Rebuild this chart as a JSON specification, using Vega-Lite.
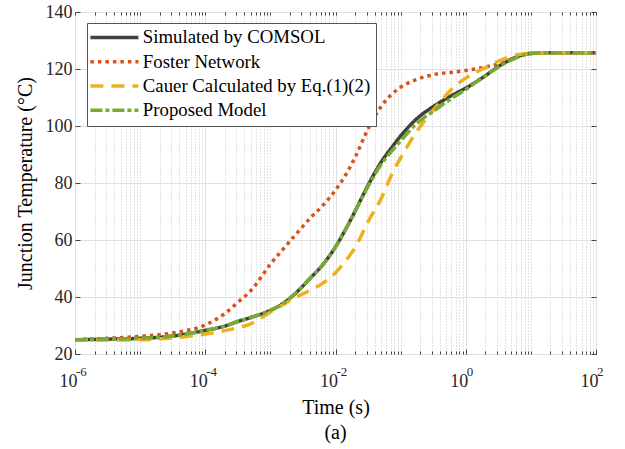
{
  "$schema": "https://vega.github.io/schema/vega-lite/v6.json",
  "width": 521,
  "height": 342,
  "autosize": "none",
  "padding": {"left": 75, "top": 12, "right": 29, "bottom": 95},
  "background": "white",
  "title": {"text": "(a)", "orient": "bottom", "offset": 6, "font": "Liberation Serif", "fontSize": 20, "fontWeight": "normal", "color": "#000000"},
  "config": {
    "view": {"stroke": "#444444", "strokeWidth": 1},
    "font": "Liberation Serif",
    "axis": {
      "labelFont": "Liberation Serif",
      "labelFontSize": 18,
      "labelColor": "#262626",
      "titleFont": "Liberation Serif",
      "titleFontSize": 20,
      "titleFontWeight": "normal",
      "titleColor": "#000000",
      "tickColor": "#444444",
      "domain": false,
      "gridColor": "#e0e0e0",
      "gridWidth": 1
    },
    "legend": {
      "orient": "none", "legendX": 12, "legendY": 11, "title": null,
      "symbolType": "M-4.8,0H4.8", "symbolSize": 100, "symbolStrokeWidth": 3.5,
      "labelFont": "Liberation Serif", "labelFontSize": 18.8, "labelColor": "#000000",
      "fillColor": "white", "strokeColor": "#555555",
      "padding": 5, "rowPadding": 4.3, "symbolOffset": 13, "labelOffset": 19, "labelLimit": 400
    }
  },
  "datasets": {
    "exps": [
      {"t": 1e-6, "e": "-6"},
      {"t": 1e-4, "e": "-4"},
      {"t": 0.01, "e": "-2"},
      {"t": 1, "e": "0"},
      {"t": 100, "e": "2"}
    ],
    "curves": [
      {"t": 1e-6, "v": 25.0, "series": "Simulated by COMSOL"},
      {"t": 3.16e-6, "v": 25.2, "series": "Simulated by COMSOL"},
      {"t": 1e-5, "v": 25.5, "series": "Simulated by COMSOL"},
      {"t": 3.16e-5, "v": 26.3, "series": "Simulated by COMSOL"},
      {"t": 1e-4, "v": 28.3, "series": "Simulated by COMSOL"},
      {"t": 2e-4, "v": 29.8, "series": "Simulated by COMSOL"},
      {"t": 3.16e-4, "v": 31.4, "series": "Simulated by COMSOL"},
      {"t": 5e-4, "v": 32.8, "series": "Simulated by COMSOL"},
      {"t": 1e-3, "v": 35.3, "series": "Simulated by COMSOL"},
      {"t": 1.58e-3, "v": 37.8, "series": "Simulated by COMSOL"},
      {"t": 2.51e-3, "v": 41.6, "series": "Simulated by COMSOL"},
      {"t": 3.98e-3, "v": 46.3, "series": "Simulated by COMSOL"},
      {"t": 6.31e-3, "v": 51.2, "series": "Simulated by COMSOL"},
      {"t": 0.01, "v": 57.6, "series": "Simulated by COMSOL"},
      {"t": 0.0141, "v": 63.5, "series": "Simulated by COMSOL"},
      {"t": 0.02, "v": 70.1, "series": "Simulated by COMSOL"},
      {"t": 0.0316, "v": 79.2, "series": "Simulated by COMSOL"},
      {"t": 0.0501, "v": 87.3, "series": "Simulated by COMSOL"},
      {"t": 0.075, "v": 92.8, "series": "Simulated by COMSOL"},
      {"t": 0.1, "v": 96.5, "series": "Simulated by COMSOL"},
      {"t": 0.17, "v": 102.2, "series": "Simulated by COMSOL"},
      {"t": 0.347, "v": 107.4, "series": "Simulated by COMSOL"},
      {"t": 0.708, "v": 111.5, "series": "Simulated by COMSOL"},
      {"t": 1, "v": 113.3, "series": "Simulated by COMSOL"},
      {"t": 1.82, "v": 117.0, "series": "Simulated by COMSOL"},
      {"t": 3.63, "v": 121.7, "series": "Simulated by COMSOL"},
      {"t": 6.31, "v": 124.4, "series": "Simulated by COMSOL"},
      {"t": 9.33, "v": 125.4, "series": "Simulated by COMSOL"},
      {"t": 19.1, "v": 125.7, "series": "Simulated by COMSOL"},
      {"t": 100, "v": 125.7, "series": "Simulated by COMSOL"},

      {"t": 1e-6, "v": 25.0, "series": "Foster Network"},
      {"t": 3.16e-6, "v": 25.5, "series": "Foster Network"},
      {"t": 1e-5, "v": 26.2, "series": "Foster Network"},
      {"t": 3.16e-5, "v": 27.4, "series": "Foster Network"},
      {"t": 1e-4, "v": 30.2, "series": "Foster Network"},
      {"t": 2e-4, "v": 34.2, "series": "Foster Network"},
      {"t": 3.16e-4, "v": 38.1, "series": "Foster Network"},
      {"t": 5e-4, "v": 42.2, "series": "Foster Network"},
      {"t": 1e-3, "v": 51.5, "series": "Foster Network"},
      {"t": 1.58e-3, "v": 56.9, "series": "Foster Network"},
      {"t": 2.51e-3, "v": 62.2, "series": "Foster Network"},
      {"t": 3.98e-3, "v": 67.4, "series": "Foster Network"},
      {"t": 6.31e-3, "v": 72.0, "series": "Foster Network"},
      {"t": 0.01, "v": 77.5, "series": "Foster Network"},
      {"t": 0.0141, "v": 82.6, "series": "Foster Network"},
      {"t": 0.02, "v": 89.0, "series": "Foster Network"},
      {"t": 0.0316, "v": 99.0, "series": "Foster Network"},
      {"t": 0.0501, "v": 106.8, "series": "Foster Network"},
      {"t": 0.075, "v": 111.4, "series": "Foster Network"},
      {"t": 0.1, "v": 113.6, "series": "Foster Network"},
      {"t": 0.17, "v": 116.2, "series": "Foster Network"},
      {"t": 0.347, "v": 118.2, "series": "Foster Network"},
      {"t": 0.708, "v": 119.0, "series": "Foster Network"},
      {"t": 1, "v": 119.5, "series": "Foster Network"},
      {"t": 1.82, "v": 120.5, "series": "Foster Network"},
      {"t": 3.63, "v": 122.2, "series": "Foster Network"},
      {"t": 6.31, "v": 124.3, "series": "Foster Network"},
      {"t": 9.33, "v": 125.4, "series": "Foster Network"},
      {"t": 19.1, "v": 125.7, "series": "Foster Network"},
      {"t": 100, "v": 125.7, "series": "Foster Network"},

      {"t": 1e-6, "v": 25.0, "series": "Cauer Calculated by Eq.(1)(2)"},
      {"t": 3.16e-6, "v": 24.9, "series": "Cauer Calculated by Eq.(1)(2)"},
      {"t": 1e-5, "v": 25.0, "series": "Cauer Calculated by Eq.(1)(2)"},
      {"t": 3.16e-5, "v": 25.6, "series": "Cauer Calculated by Eq.(1)(2)"},
      {"t": 1e-4, "v": 27.0, "series": "Cauer Calculated by Eq.(1)(2)"},
      {"t": 2e-4, "v": 28.2, "series": "Cauer Calculated by Eq.(1)(2)"},
      {"t": 3.16e-4, "v": 29.2, "series": "Cauer Calculated by Eq.(1)(2)"},
      {"t": 5e-4, "v": 30.6, "series": "Cauer Calculated by Eq.(1)(2)"},
      {"t": 1e-3, "v": 34.7, "series": "Cauer Calculated by Eq.(1)(2)"},
      {"t": 1.58e-3, "v": 37.4, "series": "Cauer Calculated by Eq.(1)(2)"},
      {"t": 2.51e-3, "v": 40.0, "series": "Cauer Calculated by Eq.(1)(2)"},
      {"t": 3.98e-3, "v": 42.2, "series": "Cauer Calculated by Eq.(1)(2)"},
      {"t": 6.31e-3, "v": 44.8, "series": "Cauer Calculated by Eq.(1)(2)"},
      {"t": 0.01, "v": 48.5, "series": "Cauer Calculated by Eq.(1)(2)"},
      {"t": 0.0141, "v": 52.5, "series": "Cauer Calculated by Eq.(1)(2)"},
      {"t": 0.02, "v": 57.4, "series": "Cauer Calculated by Eq.(1)(2)"},
      {"t": 0.0316, "v": 66.4, "series": "Cauer Calculated by Eq.(1)(2)"},
      {"t": 0.0501, "v": 74.5, "series": "Cauer Calculated by Eq.(1)(2)"},
      {"t": 0.075, "v": 83.5, "series": "Cauer Calculated by Eq.(1)(2)"},
      {"t": 0.1, "v": 88.8, "series": "Cauer Calculated by Eq.(1)(2)"},
      {"t": 0.17, "v": 97.5, "series": "Cauer Calculated by Eq.(1)(2)"},
      {"t": 0.347, "v": 106.6, "series": "Cauer Calculated by Eq.(1)(2)"},
      {"t": 0.708, "v": 114.3, "series": "Cauer Calculated by Eq.(1)(2)"},
      {"t": 1, "v": 116.8, "series": "Cauer Calculated by Eq.(1)(2)"},
      {"t": 1.82, "v": 120.0, "series": "Cauer Calculated by Eq.(1)(2)"},
      {"t": 3.63, "v": 123.3, "series": "Cauer Calculated by Eq.(1)(2)"},
      {"t": 6.31, "v": 125.0, "series": "Cauer Calculated by Eq.(1)(2)"},
      {"t": 9.33, "v": 125.5, "series": "Cauer Calculated by Eq.(1)(2)"},
      {"t": 19.1, "v": 125.7, "series": "Cauer Calculated by Eq.(1)(2)"},
      {"t": 100, "v": 125.7, "series": "Cauer Calculated by Eq.(1)(2)"},

      {"t": 1e-6, "v": 25.0, "series": "Proposed Model"},
      {"t": 3.16e-6, "v": 25.2, "series": "Proposed Model"},
      {"t": 1e-5, "v": 25.5, "series": "Proposed Model"},
      {"t": 3.16e-5, "v": 26.3, "series": "Proposed Model"},
      {"t": 1e-4, "v": 28.3, "series": "Proposed Model"},
      {"t": 2e-4, "v": 29.8, "series": "Proposed Model"},
      {"t": 3.16e-4, "v": 31.4, "series": "Proposed Model"},
      {"t": 5e-4, "v": 32.8, "series": "Proposed Model"},
      {"t": 1e-3, "v": 35.3, "series": "Proposed Model"},
      {"t": 1.58e-3, "v": 37.8, "series": "Proposed Model"},
      {"t": 2.51e-3, "v": 41.6, "series": "Proposed Model"},
      {"t": 3.98e-3, "v": 46.3, "series": "Proposed Model"},
      {"t": 6.31e-3, "v": 51.2, "series": "Proposed Model"},
      {"t": 0.01, "v": 57.6, "series": "Proposed Model"},
      {"t": 0.0141, "v": 63.5, "series": "Proposed Model"},
      {"t": 0.02, "v": 70.1, "series": "Proposed Model"},
      {"t": 0.0316, "v": 78.8, "series": "Proposed Model"},
      {"t": 0.0501, "v": 86.5, "series": "Proposed Model"},
      {"t": 0.075, "v": 91.5, "series": "Proposed Model"},
      {"t": 0.1, "v": 94.8, "series": "Proposed Model"},
      {"t": 0.17, "v": 100.5, "series": "Proposed Model"},
      {"t": 0.347, "v": 105.8, "series": "Proposed Model"},
      {"t": 0.708, "v": 110.7, "series": "Proposed Model"},
      {"t": 1, "v": 112.8, "series": "Proposed Model"},
      {"t": 1.82, "v": 117.0, "series": "Proposed Model"},
      {"t": 3.63, "v": 121.5, "series": "Proposed Model"},
      {"t": 6.31, "v": 124.2, "series": "Proposed Model"},
      {"t": 9.33, "v": 125.3, "series": "Proposed Model"},
      {"t": 19.1, "v": 125.7, "series": "Proposed Model"},
      {"t": 100, "v": 125.7, "series": "Proposed Model"}
    ]
  },
  "layer": [
    {
      "data": {"name": "curves"},
      "mark": {"type": "line", "opacity": 0},
      "encoding": {
        "x": {"field": "t", "type": "quantitative", "scale": {"type": "log", "domain": [1e-6, 100]},
              "axis": {"orient": "bottom", "tickCount": 100, "grid": true, "gridDash": [1, 2], "gridColor": "#c4c4c4", "ticks": true, "tickSize": -3, "labels": false, "title": null}},
        "y": {"field": "v", "type": "quantitative", "scale": {"domain": [20, 140]}, "axis": null}
      }
    },
    {
      "data": {"name": "curves"},
      "mark": {"type": "line", "opacity": 0},
      "encoding": {
        "x": {"field": "t", "type": "quantitative", "scale": {"type": "log", "domain": [1e-6, 100]},
              "axis": {"orient": "top", "tickCount": 100, "grid": false, "ticks": true, "tickSize": -3, "labels": false, "title": null}},
        "y": {"field": "v", "type": "quantitative", "scale": {"domain": [20, 140]},
              "axis": {"orient": "right", "values": [20, 40, 60, 80, 100, 120, 140], "grid": false, "ticks": true, "tickSize": -5, "labels": false, "title": null}}
      }
    },
    {
      "data": {"name": "curves"},
      "mark": {"type": "line", "strokeWidth": 3.5, "interpolate": "monotone", "strokeCap": "butt", "clip": true},
      "encoding": {
        "x": {"field": "t", "type": "quantitative", "scale": {"type": "log", "domain": [1e-6, 100]},
              "axis": {"orient": "bottom", "values": [1e-6, 1e-4, 0.01, 1, 100], "grid": true, "tickSize": -5, "labelPadding": 23, "labelFlush": false, "labelOverlap": false,
                       "labelExpr": "'10'", "labelOffset": -7,
                       "title": "Time (s)", "titleY": 59, "titleBaseline": "alphabetic"}},
        "y": {"field": "v", "type": "quantitative", "scale": {"domain": [20, 140]},
              "axis": {"orient": "left", "values": [20, 40, 60, 80, 100, 120, 140], "grid": true, "tickSize": -5, "labelPadding": 8,
                       "title": "Junction Temperature (°C)", "titleX": -50, "titleY": 171, "titleAngle": -90, "titleBaseline": "middle", "titleAlign": "center"}},
        "color": {"field": "series", "type": "nominal",
                  "scale": {"domain": ["Simulated by COMSOL", "Foster Network", "Cauer Calculated by Eq.(1)(2)", "Proposed Model"],
                            "range": ["#404040", "#D95319", "#EDB120", "#77AC30"]}},
        "strokeDash": {"field": "series", "type": "nominal",
                       "scale": {"domain": ["Simulated by COMSOL", "Foster Network", "Cauer Calculated by Eq.(1)(2)", "Proposed Model"],
                                 "range": [[1, 0], [3.5, 4], [13, 8], [12, 3, 4, 3]]}}
      }
    },
    {
      "data": {"name": "exps"},
      "mark": {"type": "text", "align": "left", "baseline": "alphabetic", "fontSize": 13, "font": "Liberation Serif", "color": "#262626", "dx": 1, "dy": 22, "clip": false},
      "encoding": {
        "x": {"field": "t", "type": "quantitative", "scale": {"type": "log", "domain": [1e-6, 100]}, "axis": null},
        "y": {"datum": 20, "type": "quantitative", "scale": {"domain": [20, 140]}, "axis": null},
        "text": {"field": "e"}
      }
    }
  ],
  "resolve": {"axis": {"x": "independent", "y": "independent"}}
}
